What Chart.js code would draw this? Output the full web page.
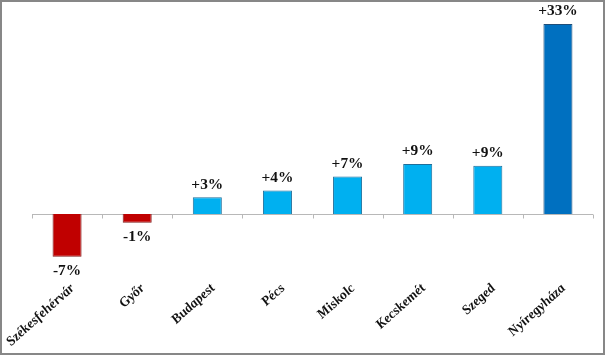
<!DOCTYPE html>
<html>
<head>
<meta charset="utf-8">
<script src="https://cdn.jsdelivr.net/npm/chart.js@4"></script>
<style>
html,body{margin:0;padding:0;background:#fff;}
#wrap{width:605px;height:355px;position:relative;}
</style>
</head>
<body>
<div id="wrap"><canvas id="c" width="605" height="355"></canvas></div>
<script>
const categories = ["Székesfehérvár","Győr","Budapest","Pécs","Miskolc","Kecskemét","Szeged","Nyíregyháza"];
const values = [-7.4, -1.5, 2.9, 4.1, 6.5, 8.7, 8.4, 33];
const valueLabels = ["-7%","-1%","+3%","+4%","+7%","+9%","+9%","+33%"];
const fillColors = ["#C00000","#C00000","#00B0F0","#00B0F0","#00B0F0","#00B0F0","#00B0F0","#0070C0"];
const borderColors = ["#7F1A1A","#7F1A1A","#1F6E9A","#1F6E9A","#1F6E9A","#1F6E9A","#1F6E9A","#1F4E79"];

const STRETCH = 1.1;

const frame = {
  id:'frame',
  afterDraw(chart){
    const ctx = chart.ctx;
    ctx.save();
    ctx.strokeStyle = '#878787';
    ctx.lineWidth = 2;
    ctx.strokeRect(1,1,603,353);
    ctx.restore();
  }
};

const zeroAxis = {
  id:'zeroAxis',
  beforeDatasetsDraw(chart){
    const ctx = chart.ctx, xs = chart.scales.x, ys = chart.scales.y;
    const y0 = Math.round(ys.getPixelForValue(0)) + 0.5;
    const n = categories.length;
    const step = xs.getPixelForValue(1) - xs.getPixelForValue(0);
    ctx.save();
    ctx.strokeStyle = '#b8b8b8';
    ctx.lineWidth = 1;
    ctx.beginPath();
    ctx.moveTo(chart.chartArea.left, y0);
    ctx.lineTo(chart.chartArea.right, y0);
    for(let i=0;i<=n;i++){
      const xp = Math.round(xs.getPixelForValue(0) - step/2 + i*step) + 0.5;
      ctx.moveTo(xp, y0);
      ctx.lineTo(xp, y0+4);
    }
    ctx.stroke();
    ctx.restore();
  }
};

const valueText = {
  id:'valueText',
  afterDatasetsDraw(chart){
    const ctx = chart.ctx;
    const meta = chart.getDatasetMeta(0);
    ctx.save();
    ctx.font = 'bold 14px "Liberation Serif"';
    ctx.fillStyle = '#111';
    ctx.textAlign = 'center';
    ctx.textBaseline = 'alphabetic';
    meta.data.forEach((bar,i)=>{
      const y = values[i] >= 0 ? bar.y - 8.5 : bar.y + 18.5;
      ctx.save();
      ctx.translate(bar.x, y);
      ctx.scale(STRETCH, 1);
      ctx.fillText(valueLabels[i], 0, 0);
      ctx.restore();
    });
    ctx.restore();
  }
};

const catLabels = {
  id:'catLabels',
  afterDraw(chart){
    const ctx = chart.ctx, xs = chart.scales.x;
    ctx.save();
    ctx.font = 'italic bold 13px "Liberation Serif"';
    ctx.fillStyle = '#111';
    ctx.textAlign = 'right';
    ctx.textBaseline = 'top';
    categories.forEach((lab,i)=>{
      const cx = xs.getPixelForValue(i);
      ctx.save();
      ctx.translate(cx + 0.5, 282);
      ctx.scale(1.12, 1);
      ctx.rotate(-Math.PI/4);
      ctx.fillText(lab, 0, 0);
      ctx.restore();
    });
    ctx.restore();
  }
};

new Chart(document.getElementById('c'), {
  type:'bar',
  data:{
    labels: categories,
    datasets:[{
      data: values,
      backgroundColor: fillColors,
      borderColor: borderColors,
      borderWidth: 1,
      categoryPercentage: 1,
      barPercentage: 0.414
    }]
  },
  options:{
    responsive:false,
    animation:false,
    devicePixelRatio:1,
    layout:{padding:{left:32,right:12,top:10,bottom:0}},
    plugins:{legend:{display:false},tooltip:{enabled:false}},
    scales:{
      x:{
        offset:true,
        grid:{display:false,drawTicks:false},
        border:{display:false},
        ticks:{display:false},
        afterFit(scale){ scale.height = 85; scale.paddingLeft = 0; scale.paddingRight = 0; }
      },
      y:{
        display:false,
        min:-9.72,
        max:35.43
      }
    }
  },
  plugins:[zeroAxis, valueText, catLabels, frame]
});
</script>
</body>
</html>
